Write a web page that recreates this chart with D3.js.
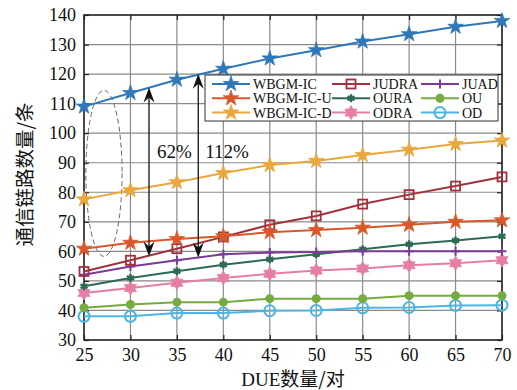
<html>
<script src="https://d3js.org/d3.v7.min.js"></script>
<body style="margin:0;background:#fff">
</body>
<script>
// data
let duePairs = [25, 30, 35, 40, 45, 50, 55, 60, 65, 70];
let yTicks = [30, 40, 50, 60, 70, 80, 90, 100, 110, 120, 130, 140];

let wbgmIC  = [109, 113.6, 118.1, 121.8, 125.3, 128.1, 131, 133.5, 136, 138];
let wbgmICU = [60.9, 62.9, 64.2, 65.1, 66.5, 67.2, 68, 69, 70, 70.5];
let wbgmICD = [77.6, 80.7, 83.4, 86.5, 89.2, 90.6, 92.6, 94.4, 96.3, 97.5];
let judra   = [53.2, 57, 60.9, 64.9, 69, 72, 76, 79.2, 82.1, 85.2];
let oura    = [48.2, 51, 53.3, 55.5, 57.3, 59, 60.7, 62.4, 63.7, 65.1];
let odra    = [45.9, 47.6, 49.4, 51, 52.4, 53.5, 54.2, 55.3, 56, 57];
let juad    = [52.1, 54.9, 57, 59, 59.6, 59.8, 60, 60, 60, 60];
let ou      = [40.9, 42, 42.8, 42.8, 44, 44, 44, 45, 45, 45];
let od      = [38, 38, 39.1, 39.1, 39.9, 40, 40.9, 41, 41.7, 41.8];

let seriesNames = ["WBGM-IC", "WBGM-IC-U", "WBGM-IC-D", "JUDRA", "OURA", "ODRA", "JUAD", "OU", "OD"];
let seriesValues = [wbgmIC, wbgmICU, wbgmICD, judra, oura, odra, juad, ou, od];

// annotation arrows (x position in DUE units, from / to in link count)
let arrowX = [32, 37.3];
let arrowLow = [58.3, 57.9];
let arrowHigh = [115.5, 120.1];
let gainLabels = ["62%", "112%"];

const colors = ["#2e78b9", "#d9582a", "#eaa83c", "#a3313c", "#2c6b52", "#e57ea4", "#7b3b97", "#76ab42", "#4cb6e2"];
const markers = ["star", "star", "star", "square", "asterisk", "hexstar", "plus", "dot", "circle"];

let width = 517, height = 390;
let margin = {left: 84, right: 15, top: 15, bottom: 50};

let svg = d3.select("body").append("svg")
    .attr("width", width)
    .attr("height", height)
    .style("font-family", "'Liberation Serif', 'Times New Roman', serif");

let x = d3.scaleLinear().domain([25, 70]).range([margin.left, width - margin.right]);
let y = d3.scaleLinear().domain([30, 140]).range([height - margin.bottom, margin.top]);

// grid
svg.append("g").selectAll("line.vg")
    .data(duePairs)
    .join("line")
    .attr("x1", d => x(d)).attr("x2", d => x(d))
    .attr("y1", y(30)).attr("y2", y(140))
    .attr("stroke", "#8a8a8a").attr("stroke-width", 1.2);
svg.append("g").selectAll("line.hg")
    .data(yTicks)
    .join("line")
    .attr("x1", x(25)).attr("x2", x(70))
    .attr("y1", d => y(d)).attr("y2", d => y(d))
    .attr("stroke", "#8a8a8a").attr("stroke-width", 1.2);

// axes (inward ticks)
let xAxis = svg.append("g").attr("transform", `translate(0,${y(30)})`)
    .call(d3.axisBottom(x).tickValues(duePairs).tickSizeInner(-5).tickSizeOuter(0).tickPadding(8));
let yAxis = svg.append("g").attr("transform", `translate(${x(25)},0)`)
    .call(d3.axisLeft(y).tickValues(yTicks).tickSizeInner(-5).tickSizeOuter(0).tickPadding(8));
svg.append("g").attr("transform", `translate(0,${y(140)})`)
    .call(d3.axisTop(x).tickValues(duePairs).tickSizeInner(-5).tickSizeOuter(0).tickFormat(""));
svg.append("g").attr("transform", `translate(${x(70)},0)`)
    .call(d3.axisRight(y).tickValues(yTicks).tickSizeInner(-5).tickSizeOuter(0).tickFormat(""));
svg.selectAll(".domain").remove();
svg.selectAll(".tick line").attr("stroke", "#222").attr("stroke-width", 1.2);
[xAxis, yAxis].forEach(a => a.selectAll("text")
    .style("font-family", "'Liberation Serif', serif").style("font-size", "18px").attr("fill", "#111"));

svg.append("rect")
    .attr("x", x(25)).attr("y", y(140))
    .attr("width", x(70) - x(25)).attr("height", y(30) - y(140))
    .attr("fill", "none").attr("stroke", "#222").attr("stroke-width", 1.5);

// dashed ellipse
svg.append("ellipse")
    .attr("cx", x(27.15)).attr("cy", y(86.4))
    .attr("rx", x(27.15) - x(25.2)).attr("ry", y(58.3) - y(86.4))
    .attr("fill", "none").attr("stroke", "#666").attr("stroke-width", 1)
    .attr("stroke-dasharray", "5,3");

// marker drawing
function hexStar(r) {
    let pts = [];
    for (let i = 0; i < 12; i++) {
        let a = -Math.PI / 2 + i * Math.PI / 6;
        let rr = i % 2 === 0 ? r : r * 0.58;
        pts.push([rr * Math.cos(a), rr * Math.sin(a)]);
    }
    return "M" + pts.map(p => p.join(",")).join("L") + "Z";
}
function drawMarker(g, type, color) {
    if (type === "star") {
        g.append("path").attr("d", d3.symbol(d3.symbolStar, 75)())
            .attr("fill", color).attr("stroke", color).attr("stroke-width", 0.8);
    } else if (type === "square") {
        g.append("rect").attr("x", -4.5).attr("y", -4.5).attr("width", 9).attr("height", 9)
            .attr("fill", "none").attr("stroke", color).attr("stroke-width", 1.8);
    } else if (type === "asterisk") {
        g.append("path").attr("d", d3.symbol(d3.symbolAsterisk, 45)())
            .attr("fill", "none").attr("stroke", color).attr("stroke-width", 2.4);
    } else if (type === "hexstar") {
        g.append("path").attr("d", hexStar(7))
            .attr("fill", color).attr("stroke", color).attr("stroke-width", 0.8);
    } else if (type === "plus") {
        g.append("path").attr("d", "M-4.5,0H4.5M0,-4.5V4.5")
            .attr("stroke", color).attr("stroke-width", 2);
    } else if (type === "dot") {
        g.append("circle").attr("r", 4.5).attr("fill", color);
    } else if (type === "circle") {
        g.append("circle").attr("r", 5.5).attr("fill", "none")
            .attr("stroke", color).attr("stroke-width", 2);
    }
}

let line = d3.line().x((d, i) => x(duePairs[i])).y(d => y(d));

// draw series bottom to top so the main curves stay in front
let order = [8, 7, 5, 4, 6, 3, 1, 2, 0];
order.forEach(s => {
    let g = svg.append("g");
    g.append("path").datum(seriesValues[s])
        .attr("d", line)
        .attr("fill", "none").attr("stroke", colors[s]).attr("stroke-width", 2);
    g.selectAll("g.m").data(seriesValues[s]).join("g")
        .attr("transform", (d, i) => `translate(${x(duePairs[i])},${y(d)})`)
        .each(function () { drawMarker(d3.select(this), markers[s], colors[s]); });
});

// arrows
function arrowHead(tipX, tipY, dir) {
    // dir -1 = up, 1 = down
    let len = 15, half = 5.5, notch = 5;
    return `M${tipX},${tipY}L${tipX - half},${tipY - dir * len}L${tipX},${tipY - dir * (len - notch)}L${tipX + half},${tipY - dir * len}Z`;
}
arrowX.forEach((ax, i) => {
    let px = x(ax);
    svg.append("line")
        .attr("x1", px).attr("x2", px)
        .attr("y1", y(arrowHigh[i]) + 8).attr("y2", y(arrowLow[i]) - 8)
        .attr("stroke", "#111").attr("stroke-width", 1.3);
    svg.append("path").attr("d", arrowHead(px, y(arrowHigh[i]), -1)).attr("fill", "#111");
    svg.append("path").attr("d", arrowHead(px, y(arrowLow[i]), 1)).attr("fill", "#111");
});

svg.append("text")
    .attr("x", x(32.85)).attr("y", y(91.6))
    .style("font-size", "19px").attr("fill", "#111")
    .text(gainLabels[0]);
svg.append("text")
    .attr("x", x(38.05)).attr("y", y(91.6))
    .style("font-size", "19px").attr("fill", "#111")
    .text(gainLabels[1]);

// legend
let lg = svg.append("g").attr("transform", "translate(205,75)");
lg.append("rect").attr("width", 293).attr("height", 46)
    .attr("fill", "#fff").attr("stroke", "#333").attr("stroke-width", 1);
let colX = [7, 127, 216];
seriesNames.forEach((name, i) => {
    let col = Math.floor(i / 3), row = i % 3;
    let item = lg.append("g").attr("transform", `translate(${colX[col]},${9 + row * 14.3})`);
    item.append("line").attr("x1", 0).attr("x2", 38)
        .attr("stroke", colors[i]).attr("stroke-width", 2);
    let m = item.append("g").attr("transform", "translate(19,0)");
    drawMarker(m, markers[i], colors[i]);
    item.append("text").attr("x", 41).attr("y", 5)
        .style("font-size", "14px").attr("fill", "#111")
        .text(name);
});

// axis titles
svg.append("text")
    .attr("x", x(47.5)).attr("y", 386)
    .attr("text-anchor", "middle")
    .style("font-size", "19px").attr("fill", "#111")
    .html('DUE<tspan style="font-family:\'Noto Sans CJK SC\'">数量/对</tspan>');
svg.append("text")
    .attr("transform", `translate(32,${y(86)}) rotate(-90)`)
    .attr("text-anchor", "middle")
    .style("font-family", "'Noto Sans CJK SC'")
    .style("font-size", "19.5px").attr("fill", "#111")
    .text("通信链路数量/条");
</script>
</html>
